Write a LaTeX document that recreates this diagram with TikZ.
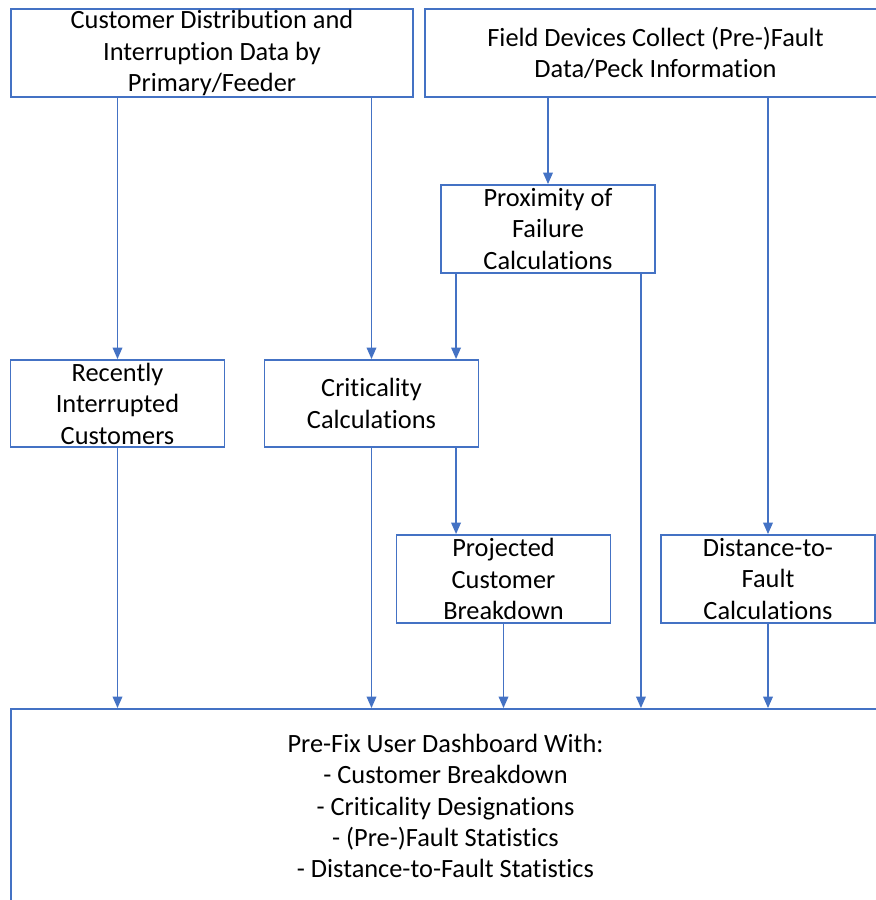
\documentclass[tikz,border=0pt]{standalone}
\usepackage{fontspec}
\setmainfont{Carlito}[Ligatures=NoCommon]
\usetikzlibrary{arrows.meta}
\definecolor{flowblue}{HTML}{4472C4}
\begin{document}
\begin{tikzpicture}[
        x=0.02cm, y=-0.02cm,
        box/.style={rectangle, draw=flowblue, line width=1.1pt, fill=white, inner sep=0pt, align=center, font=\fontsize{15pt}{17.9pt}\selectfont},
        smallbox/.style={box, minimum width=4.28cm, minimum height=1.76cm},
        arrow/.style={-{Triangle[length=6.5pt, width=5.5pt]}, flowblue, line width=0.75pt}
    ]
        \useasboundingbox (0,0) rectangle (876,900);
        % Boxes
        \node[box, minimum width=8.04cm, minimum height=1.76cm] (custdata) at (212,53) {Customer Distribution and\\Interruption Data by\\Primary/Feeder};
        \node[box, minimum width=9.22cm, minimum height=1.76cm] (fielddev) at (655.5,53) {Field Devices Collect (Pre-)Fault\\Data/Peck Information};
        \node[smallbox] (proximity) at (548,229) {Proximity of\\Failure\\Calculations};
        \node[smallbox, minimum height=1.74cm] (recent) at (117.5,403.5) {Recently\\Interrupted\\Customers};
        \node[smallbox, minimum height=1.74cm] (critical) at (371.5,403.5) {Criticality\\Calculations};
        \node[smallbox] (projected) at (503.5,579) {Projected\\Customer\\Breakdown};
        \node[smallbox] (distance) at (768,579) {Distance-to-\\Fault\\Calculations};
        \node[box, minimum width=17.38cm, minimum height=3.88cm] (dashboard) at (445.5,806) {Pre-Fix User Dashboard With:\\- Customer Breakdown\\- Criticality Designations\\- (Pre-)Fault Statistics\\- Distance-to-Fault Statistics};

        % Taps off the box edges
        \coordinate (proxleft) at ([xshift=0.32cm]proximity.south west);
        \coordinate (proxright) at ([xshift=-0.30cm]proximity.south east);

        % Arrows
        \draw[arrow] (custdata.south -| recent) -- (recent.north);
        \draw[arrow] (custdata.south -| critical) -- (critical.north);
        \draw[arrow] (fielddev.south -| proximity) -- (proximity.north);
        \draw[arrow] (fielddev.south -| distance) -- (distance.north);
        \draw[arrow] (proxleft) -- (proxleft |- critical.north);
        \draw[arrow] (proxright) -- (proxright |- dashboard.north);
        \draw[arrow] (critical.south -| proxleft) -- (proxleft |- projected.north);
        \draw[arrow] (critical.south) -- (critical.south |- dashboard.north);
        \draw[arrow] (recent.south) -- (recent.south |- dashboard.north);
        \draw[arrow] (projected.south) -- (projected.south |- dashboard.north);
        \draw[arrow] (distance.south) -- (distance.south |- dashboard.north);
    \end{tikzpicture}
\end{document}
